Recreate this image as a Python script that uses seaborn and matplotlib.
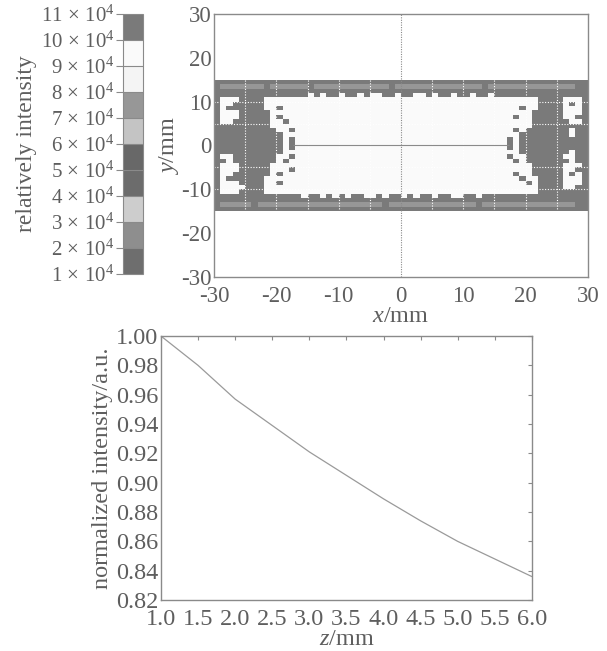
import numpy as np
import seaborn as sns
import matplotlib
matplotlib.use("Agg")
import matplotlib.pyplot as plt
from matplotlib.colors import ListedColormap, BoundaryNorm

# colour bar bands, relative intensity in units of 1e4
band_edges = [1, 2, 3, 4, 5, 6, 7, 8, 9, 10, 11]
band_colors = ["#6e6e6e", "#8e8e8e", "#cdcdcd", "#6c6c6c", "#686868",
               "#c4c4c4", "#979797", "#f4f4f4", "#fafafa", "#7a7a7a"]
band_labels = [r"$%d\,\times\,10^{4}$" % v for v in band_edges]

# intensity (1e4) for each symbol of the spot map
level_of = {"#": 10.5, "+": 7.5, ".": 9.5}

# spot map: 1 mm cells, rows y = 15 -> -15,
# columns x = -30 -> 30, written in groups of 10 mm
spot_map = [
    "########## ########## ########## ########## ########## ##########",
    "#+++++++#+ +++++#++++ ++++++++#+ ++++++++++ +++#++++++ ++++++++##",
    "########## ########## ########## ########## ########## ##########",
    "########## #####.#.## .##.#..##. ##..#.##.# #.##.##### ##########",
    "#...####.. .......... .......... .......... .......... ..####...#",
    "#..#####.. .......... .......... .......... .......... ..####.#.#",
    "#.######.. #......... .......... .......... .........# ..####...#",
    "#...#####. .......... .......... .......... .......... .#####...#",
    "#...#####. #......... .......... .......... ........#. .#####..##",
    "#..######. .#........ .......... .......... .......... .######..#",
    "#########. .......... .......... .......... .......... .#########",
    "########## ..#....... .......... .......... ........#. #######.##",
    "########## #......... .......... .......... .........# #######.##",
    "########## #.#....... .......... .......... .......#.# ##########",
    "########## #.#....... .......... .......... .......#.# ##########",
    "########## #.#....... .......... .......... .......#.# ##########",
    "########## #......... .......... .......... .........# #######.##",
    "#..####### ..#....... .......... .......... .......#.. ######..##",
    "##.####### .#........ .......... .......... ........#. #######.##",
    "#...#####. .......... .......... .......... .......... .#####...#",
    "#...#####. ..#....... .......... .......... .......... .#####..##",
    "#..######. #......... .......... .......... ........#. .#####.#.#",
    "#.######.. .......... .......... .......... .........# ..####...#",
    "#...####.. #......... .......... .......... .......... #.####...#",
    "#....###.. .......... .......... .......... .......... ..####..##",
    "#...####.. .......... .......... .......... .......... ..########",
    "########## ####.##.#. #.##..#.## .#.##.##.. ##.####### ##########",
    "########## ########## ########## ########## ########## ##########",
    "#+++++#+++ ++++++++++ +++++++#++ ++++++++++ ++#+++++++ ++++++++##",
    "########## ########## ########## ########## ########## ##########",
]

# dotted 5 mm guide lines seen inside the spot
guide_x_mm = [-25, -20, -15, -10, -5, 5, 10, 15, 20, 25]
guide_y_mm = [-10, -5, 5, 10]
axis_line_half = 17.3

# normalized intensity along z
z_mm = [1.0, 1.5, 2.0, 2.5, 3.0, 3.5, 4.0, 4.5, 5.0, 5.5, 6.0]
norm_intensity = [1.000, 0.980, 0.957, 0.939, 0.921, 0.905,
                  0.889, 0.874, 0.860, 0.848, 0.836]

sns.set_theme(style="white")
plt.rcParams["font.family"] = ["Liberation Serif", "DejaVu Serif"]
plt.rcParams["mathtext.fontset"] = "custom"
plt.rcParams["mathtext.rm"] = "Liberation Serif"
plt.rcParams["mathtext.it"] = "Liberation Serif:italic"
txt = "#5e5e5e"
edge = "#8a8a8a"

fig = plt.figure(figsize=(6.07, 6.51), dpi=100)
cax = fig.add_axes([0.2026, 0.579, 0.033, 0.3994])
ax1 = fig.add_axes([0.3526, 0.5745, 0.616, 0.404])
ax2 = fig.add_axes([0.2652, 0.0783, 0.611, 0.4055])

grid = np.array([[level_of[ch] for ch in row.replace(" ", "")]
                 for row in spot_map]) * 1e4
cmap = ListedColormap(band_colors)
norm = BoundaryNorm(np.array(band_edges) * 1e4, cmap.N)
sns.heatmap(grid, ax=ax1, cmap=cmap, norm=norm, cbar_ax=cax,
            xticklabels=False, yticklabels=False,
            cbar_kws={"ticks": np.array(band_edges) * 1e4, "drawedges": True})

n_rows, n_cols = grid.shape
x0 = n_cols / 2  # column coordinate of x = 0
y0 = n_rows / 2  # row coordinate of y = 0
ax1.set_xlim(x0 - 30, x0 + 30)
ax1.set_ylim(y0 + 30, y0 - 30)
ax1.set_xticks([x0 + v for v in range(-30, 31, 10)])
ax1.set_xticklabels([str(v) for v in range(-30, 31, 10)])
ax1.set_yticks([y0 - v for v in range(30, -31, -10)])
ax1.set_yticklabels([str(v) for v in range(30, -31, -10)], rotation=0)
ax1.vlines([x0 + v for v in guide_x_mm], 0, n_rows, colors="white",
           linestyles=(0, (1, 1.5)), lw=0.8)
ax1.hlines([y0 - v for v in guide_y_mm], 0, n_cols, colors="white",
           linestyles=(0, (1, 1.5)), lw=0.8)
ax1.axvline(x0, color="#8a8a8a", ls=(0, (1, 1.2)), lw=0.8)
ax1.hlines(y0, x0 - axis_line_half, x0 + axis_line_half, colors="#8a8a8a", lw=0.8)
ax1.set_xlabel("$x$/mm", fontsize=17.5, color=txt, labelpad=-1)
ax1.set_ylabel("$y$/mm", fontsize=17.5, color=txt, labelpad=0)

cbar = ax1.collections[0].colorbar
cbar.outline.set_linewidth(0.8)
cbar.outline.set_edgecolor(edge)
cbar.dividers.set_color(edge)
cbar.dividers.set_linewidth(0.8)
cax.yaxis.set_ticks_position("left")
cax.yaxis.set_label_position("left")
cbar.set_ticks(np.array(band_edges) * 1e4)
cbar.set_ticklabels(band_labels)
cax.tick_params(axis="y", length=5, width=0.8, color=edge, labelsize=15,
                labelcolor=txt, pad=1)
cax.set_ylabel("relatively intensity", fontsize=17, color=txt, labelpad=3)

sns.lineplot(x=z_mm, y=norm_intensity, ax=ax2, color="#9a9a9a", lw=0.9)
ax2.set_xlim(1.0, 6.0)
ax2.set_ylim(0.82, 1.00)
ax2.set_xticks(z_mm)
ax2.set_xticklabels([f"{v:.1f}" for v in z_mm])
y_ticks = [0.82, 0.84, 0.86, 0.88, 0.90, 0.92, 0.94, 0.96, 0.98, 1.00]
ax2.set_yticks(y_ticks)
ax2.set_yticklabels([f"{v:.2f}" for v in y_ticks])
ax2.set_xlabel("$z$/mm", fontsize=17.5, color=txt, labelpad=-1)
ax2.set_ylabel("normalized intensity/a.u.", fontsize=17.5, color=txt, labelpad=2)
ax2.tick_params(direction="in", top=True, right=True, length=3, width=0.8,
                color=edge)

for ax, size in ((ax1, 16.5), (ax2, 17.5)):
    for s in ax.spines.values():
        s.set_visible(True)
        s.set_color(edge)
        s.set_linewidth(1.0)
    ax.tick_params(labelsize=size, labelcolor=txt)
    ax.tick_params(axis="x", pad=6.5)
    ax.tick_params(axis="y", pad=2)
ax1.tick_params(length=0)

fig.savefig("out.png", dpi=100)
